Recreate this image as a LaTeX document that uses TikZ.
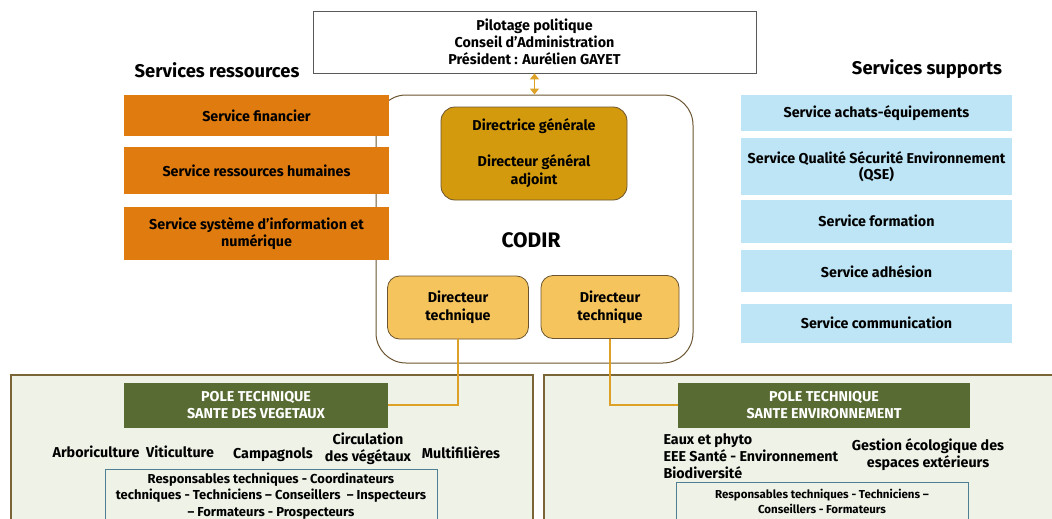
\documentclass[tikz,border=0pt]{standalone}
\usepackage{fontspec}
\setmainfont{Fira Sans}
\usetikzlibrary{positioning,arrows,arrows.meta,calc}
\definecolor{orangeres}{HTML}{E07B10}
\definecolor{bluesup}{HTML}{BEE5F5}
\definecolor{golddark}{HTML}{D49A0E}
\definecolor{goldlight}{HTML}{F5C45C}
\definecolor{goldlink}{HTML}{DCA126}
\definecolor{browncodir}{HTML}{6B5530}
\definecolor{brownpanel}{HTML}{7A6538}
\definecolor{greenpole}{HTML}{586B32}
\definecolor{greenpanel}{HTML}{EEF2E7}
\definecolor{bluestaff}{HTML}{4E7F93}
\tikzstyle{link} = [draw=goldlink, line width=1.8pt]

\begin{document}
\begin{tikzpicture}[
    x=1pt, y=-1pt,
    txt/.style={
      font=\bfseries\fontsize{14.3}{17}\selectfont,
      align=center
    },
    heading/.style={
      font=\bfseries\fontsize{18.4}{21}\selectfont
    },
    pilot/.style={
      txt,
      draw=black!65,
      line width=.8pt,
      fill=white,
      minimum width=443,
      minimum height=62
    },
    resource/.style={
      txt,
      fill=orangeres,
      minimum width=265
    },
    support/.style={
      txt,
      fill=bluesup,
      minimum width=271,
      font=\bfseries\fontsize{14.3}{16.5}\selectfont
    },
    codirbox/.style={
      draw=browncodir,
      line width=1pt,
      rounded corners=30pt,
      fill=white,
      minimum width=317,
      minimum height=268
    },
    direction/.style={
      txt,
      draw=browncodir,
      line width=.8pt,
      rounded corners=14pt,
      fill=golddark,
      minimum width=186,
      minimum height=93,
      font=\bfseries\fontsize{14.3}{18}\selectfont
    },
    techdir/.style={
      txt,
      draw=browncodir,
      line width=.8pt,
      rounded corners=12pt,
      fill=goldlight,
      minimum height=63,
      font=\bfseries\fontsize{14.3}{18}\selectfont
    },
    panel/.style={
      draw=brownpanel,
      line width=1.5pt,
      fill=greenpanel,
      minimum height=170,
      anchor=north west
    },
    pole/.style={
      txt,
      fill=greenpole,
      text=white,
      minimum height=45
    },
    staff/.style={
      txt,
      draw=bluestaff,
      line width=1pt,
      anchor=north,
      inner ysep=3pt
    }
  ]

  \useasboundingbox (0,0) rectangle (1052,519);

  % bottom panels
  \node[panel,minimum width=522] (pansv) at (10,374) {};
  \node[panel,minimum width=520] (panse) at (543,374) {};

  % codir
  \node[codirbox] (codir) at (534.5,229) {};
  \node[heading,font=\bfseries\fontsize{21}{24}\selectfont] (codirlbl) at (531,240) {CODIR};

  \node[pilot] (pilot) at (534.5,42) {Pilotage politique\\Conseil d’Administration\\Président : Aurélien GAYET};
  \draw[draw=goldlink,line width=1.2pt,{Triangle[width=9pt,length=6pt]}-{Triangle[width=9pt,length=6pt]}] (pilot.south) -- (codir.north);

  \node[direction] (dg) at (534,153.5) {Directrice générale\\[18pt]Directeur général\\adjoint};
  \node[techdir,minimum width=141] (dt1) at (458,307.5) {Directeur\\technique};
  \node[techdir,minimum width=138] (dt2) at (610,307) {Directeur\\technique};

  % services ressources
  \node[heading] (resttl) at (217,70) {Services ressources};
  \node[resource,minimum height=41] (fin) at (256.5,115.5) {Service financier};
  \node[resource,minimum height=47,below=11pt of fin] (rh) {Service ressources humaines};
  \node[resource,minimum height=53,below=12pt of rh] (si) {Service système d’information et\\numérique};

  % services supports
  \node[heading] (supttl) at (927,69) {Services supports};
  \node[support,minimum height=36] (achat) at (876.5,113) {Service achats-équipements};
  \node[support,minimum height=57,below=7pt of achat] (qse) {Service Qualité Sécurité Environnement\\(QSE)};
  \node[support,minimum height=43,below=4pt of qse] (form) {Service formation};
  \node[support,minimum height=42,below=7pt of form] (adh) {Service adhésion};
  \node[support,minimum height=39,below=11pt of adh] (comm) {Service communication};

  % pole sante des vegetaux
  \node[pole,minimum width=264] (psv) at (256,405) {POLE TECHNIQUE\\SANTE DES VEGETAUX};
  \node[txt] (arbo) at (96,452) {Arboriculture};
  \node[txt] (viti) at (180,452) {Viticulture};
  \node[txt] (camp) at (273,455) {Campagnols};
  \node[txt] (circ) at (368,448.5) {Circulation\\des végétaux};
  \node[txt] (multi) at (461,453) {Multifilières};
  \node[staff,minimum width=332,font=\bfseries\fontsize{13}{16.5}\selectfont] (staffsv) at (271,469)
    {Responsables techniques - Coordinateurs\\techniques - Techniciens – Conseillers~ – Inspecteurs\\– Formateurs - Prospecteurs};

  % pole sante environnement
  \node[pole,minimum width=292] (pse) at (824,405) {POLE TECHNIQUE\\SANTE ENVIRONNEMENT};
  \node[txt,align=left,anchor=west] (eaux) at (660,456) {Eaux et phyto\\EEE Santé - Environnement\\Biodiversité};
  \node[txt] (gest) at (928,455) {Gestion écologique des\\espaces extérieurs};
  \node[staff,minimum width=292,inner ysep=7pt,font=\bfseries\fontsize{11.5}{14.5}\selectfont] (staffse) at (822,482)
    {Responsables techniques - Techniciens –\\Conseillers - Formateurs};

  \draw[link] (dt1.south) |- (psv.east);
  \draw[link] (dt2.south) |- (pse.west);

\end{tikzpicture}
\end{document}
